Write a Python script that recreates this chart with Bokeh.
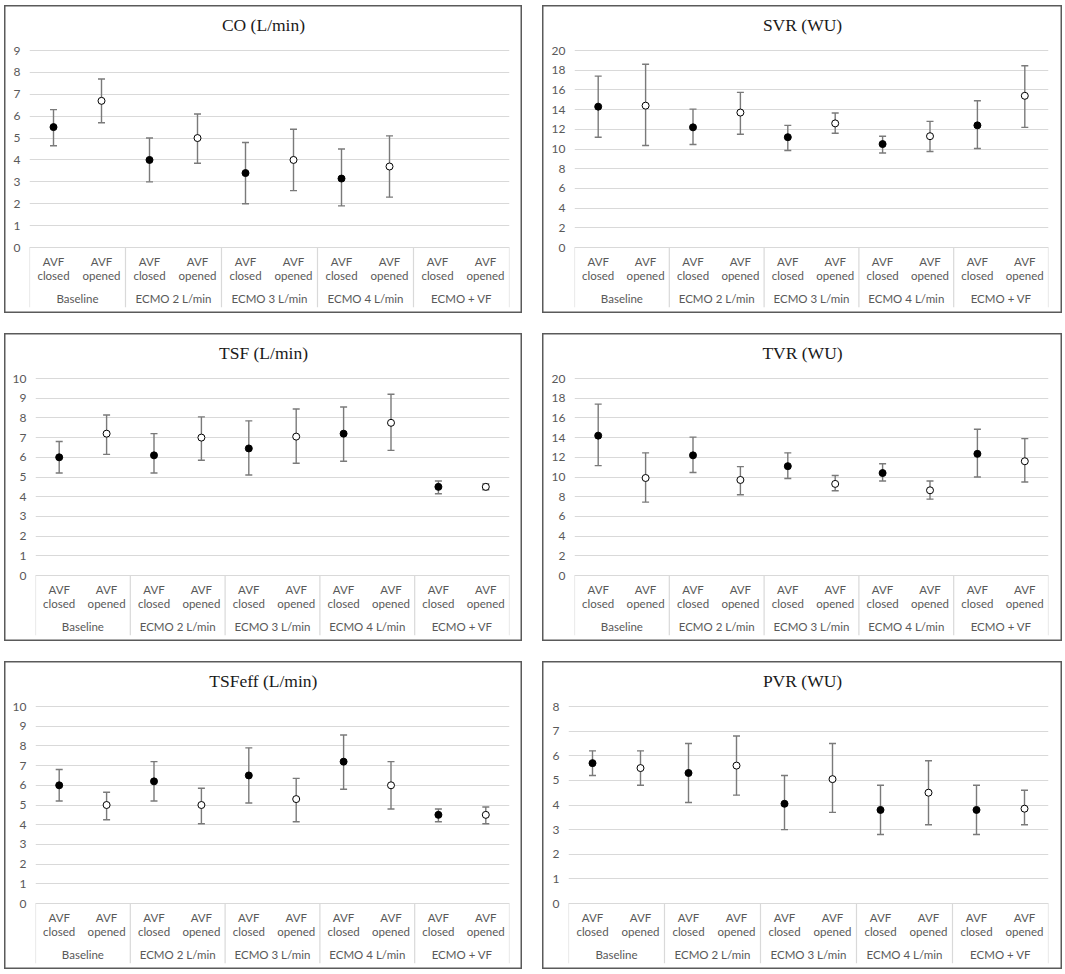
from bokeh.plotting import figure
from bokeh.models import ColumnDataSource, FactorRange, Range1d, FixedTicker, Whisker, TeeHead
from bokeh.layouts import column, row
from bokeh.embed import file_html
from bokeh.resources import INLINE

groups = ["Baseline", "ECMO 2 L/min", "ECMO 3 L/min", "ECMO 4 L/min", "ECMO + VF"]
states = ["AVF\nclosed", "AVF\nopened"]

# CO (L/min)
co_closed = [5.5, 4.0, 3.4, 3.15, None]
co_closed_lo = [4.65, 3.0, 2.0, 1.9, None]
co_closed_hi = [6.3, 5.0, 4.8, 4.5, None]
co_opened = [6.7, 5.0, 4.0, 3.7, None]
co_opened_lo = [5.7, 3.85, 2.6, 2.3, None]
co_opened_hi = [7.7, 6.1, 5.4, 5.1, None]

# SVR (WU)
svr_closed = [14.3, 12.2, 11.2, 10.5, 12.4]
svr_closed_lo = [11.2, 10.45, 9.85, 9.6, 10.05]
svr_closed_hi = [17.4, 14.05, 12.4, 11.3, 14.9]
svr_opened = [14.4, 13.7, 12.6, 11.3, 15.4]
svr_opened_lo = [10.35, 11.5, 11.6, 9.75, 12.2]
svr_opened_hi = [18.6, 15.75, 13.65, 12.8, 18.45]

# TSF (L/min)
tsf_closed = [6.0, 6.1, 6.45, 7.2, 4.5]
tsf_closed_lo = [5.2, 5.2, 5.1, 5.8, 4.15]
tsf_closed_hi = [6.8, 7.2, 7.85, 8.55, 4.8]
tsf_opened = [7.2, 7.0, 7.05, 7.75, 4.5]
tsf_opened_lo = [6.15, 5.85, 5.7, 6.35, 4.35]
tsf_opened_hi = [8.15, 8.05, 8.45, 9.2, 4.65]

# TVR (WU)
tvr_closed = [14.2, 12.2, 11.1, 10.4, 12.35]
tvr_closed_lo = [11.15, 10.45, 9.85, 9.6, 10.0]
tvr_closed_hi = [17.4, 14.05, 12.45, 11.35, 14.85]
tvr_opened = [9.9, 9.7, 9.3, 8.65, 11.6]
tvr_opened_lo = [7.45, 8.2, 8.6, 7.75, 9.5]
tvr_opened_hi = [12.45, 11.05, 10.15, 9.6, 13.9]

# TSFeff (L/min)
tsfeff_closed = [6.0, 6.2, 6.5, 7.2, 4.5]
tsfeff_closed_lo = [5.2, 5.2, 5.1, 5.8, 4.15]
tsfeff_closed_hi = [6.8, 7.2, 7.9, 8.55, 4.8]
tsfeff_opened = [5.0, 5.0, 5.3, 6.0, 4.5]
tsfeff_opened_lo = [4.25, 4.05, 4.15, 4.8, 4.05]
tsfeff_opened_hi = [5.65, 5.85, 6.35, 7.2, 4.9]

# PVR (WU)
pvr_closed = [5.7, 5.3, 4.05, 3.8, 3.8]
pvr_closed_lo = [5.2, 4.1, 3.0, 2.8, 2.8]
pvr_closed_hi = [6.2, 6.5, 5.2, 4.8, 4.8]
pvr_opened = [5.5, 5.6, 5.05, 4.5, 3.85]
pvr_opened_lo = [4.8, 4.4, 3.7, 3.2, 3.2]
pvr_opened_hi = [6.2, 6.8, 6.5, 5.8, 4.6]

FONT = "Lato"
LABEL_COLOR = "#595959"
GRID_COLOR = "#d9d9d9"
ERR_COLOR = "#7a7a7a"
DATA_PX = 197      # height of the value area
AXIS_PX = 60       # height of the category-label area below 0
HEAD_PX = 7        # empty strip above the top gridline inside the frame
TOP_PX = 38
BOTTOM_PX = 6
TITLE_SIZE = 17.5

# Times / Liberation Serif advance widths (per 1000 em), used to centre titles on the panel
SERIF_W = {"C": 667, "O": 722, " ": 250, "(": 333, ")": 333, "L": 611, "/": 278, "m": 778,
           "i": 278, "n": 500, "S": 556, "V": 722, "R": 667, "W": 944, "U": 722, "T": 611,
           "F": 556, "P": 556, "e": 444, "f": 333}


def text_width(s, size):
    return sum(SERIF_W.get(ch, 500) for ch in s) * size / 1000.0


def make_panel(title, ymax, ystep, closed, closed_lo, closed_hi, opened, opened_lo, opened_hi, col):
    factors = [(g, s) for g in groups for s in states]
    ndig = len(str(ymax))
    if col == 0:
        W, left, right = 518, 19 + 6 * ndig, 13
    else:
        W, left, right = 520, 20 + 6 * ndig, 14
    H = 308
    per_px = ymax / DATA_PX
    ystart = -AXIS_PX * per_px
    yend = ymax + HEAD_PX * per_px
    p = figure(x_range=FactorRange(*factors, factor_padding=0, group_padding=0,
                                   subgroup_padding=0, range_padding=0),
               y_range=Range1d(ystart, yend),
               width=W, height=H, output_backend="svg", toolbar_location=None,
               min_border_left=left, min_border_right=right,
               min_border_top=TOP_PX, min_border_bottom=BOTTOM_PX, title=title)
    p.outline_line_color = None
    p.background_fill_color = None
    p.border_fill_color = None
    p.styles = {"box-shadow": "inset 0 0 0 1.5px #5a5a5a", "background-color": "white"}

    p.title.text_font = "Liberation Serif"
    p.title.text_font_size = f"{TITLE_SIZE}px"
    p.title.text_font_style = "normal"
    p.title.text_color = "#1a1a1a"
    p.title.align = "left"
    p.title.offset = W / 2 - left - text_width(title, TITLE_SIZE) / 2
    p.title.vertical_align = "top"
    p.title.standoff = 14

    p.xgrid.grid_line_color = None
    p.ygrid.grid_line_color = GRID_COLOR
    p.ygrid.grid_line_width = 1

    p.yaxis.ticker = FixedTicker(ticks=list(range(0, ymax + 1, ystep)))
    p.yaxis.axis_line_color = None
    p.yaxis.major_tick_line_color = None
    p.yaxis.minor_tick_line_color = None
    p.yaxis.major_tick_out = 0
    p.yaxis.major_label_standoff = 9
    p.yaxis.major_label_text_font = FONT
    p.yaxis.major_label_text_font_size = "12px"
    p.yaxis.major_label_text_color = LABEL_COLOR

    xa = p.xaxis[0]
    xa.fixed_location = 0
    xa.axis_line_color = GRID_COLOR
    xa.major_tick_line_color = None
    xa.minor_tick_line_color = None
    xa.major_tick_out = 0
    xa.major_label_standoff = 7
    xa.major_label_text_font = FONT
    xa.major_label_text_font_size = "11.5px"
    xa.major_label_text_line_height = 1.1
    xa.major_label_text_color = LABEL_COLOR
    xa.group_text_font = FONT
    xa.group_text_font_size = "11.5px"
    xa.group_text_font_style = "normal"
    xa.group_text_color = LABEL_COLOR
    xa.separator_line_color = None

    # group separators in the category area
    sx = [(g, states[0], -0.5) for g in groups] + [(groups[-1], states[-1], 0.5)]
    sep = ColumnDataSource(dict(x0=sx, x1=sx, y0=[0] * len(sx), y1=[ystart] * len(sx)))
    p.segment(x0="x0", y0="y0", x1="x1", y1="y1", source=sep,
              line_color=GRID_COLOR, line_width=1.2)

    for state, mean, lo, hi, fill in ((states[0], closed, closed_lo, closed_hi, "black"),
                                      (states[1], opened, opened_lo, opened_hi, "white")):
        xs, ys, los, his = [], [], [], []
        for g, m, l, h in zip(groups, mean, lo, hi):
            if m is None:
                continue
            xs.append((g, state))
            ys.append(m)
            los.append(l)
            his.append(h)
        src = ColumnDataSource(dict(x=xs, y=ys, lo=los, hi=his))
        w = Whisker(source=src, base="x", lower="lo", upper="hi", dimension="height",
                    line_color=ERR_COLOR, line_width=1.4, level="underlay",
                    upper_head=TeeHead(size=7, line_color=ERR_COLOR, line_width=1.4),
                    lower_head=TeeHead(size=7, line_color=ERR_COLOR, line_width=1.4))
        p.add_layout(w)
        p.scatter(x="x", y="y", source=src, marker="circle", size=7,
                  fill_color=fill, line_color="black", line_width=1)
    return p


p1 = make_panel("CO (L/min)", 9, 1, co_closed, co_closed_lo, co_closed_hi,
                co_opened, co_opened_lo, co_opened_hi, 0)
p2 = make_panel("SVR (WU)", 20, 2, svr_closed, svr_closed_lo, svr_closed_hi,
                svr_opened, svr_opened_lo, svr_opened_hi, 1)
p3 = make_panel("TSF (L/min)", 10, 1, tsf_closed, tsf_closed_lo, tsf_closed_hi,
                tsf_opened, tsf_opened_lo, tsf_opened_hi, 0)
p4 = make_panel("TVR (WU)", 20, 2, tvr_closed, tvr_closed_lo, tvr_closed_hi,
                tvr_opened, tvr_opened_lo, tvr_opened_hi, 1)
p5 = make_panel("TSFeff (L/min)", 10, 1, tsfeff_closed, tsfeff_closed_lo, tsfeff_closed_hi,
                tsfeff_opened, tsfeff_opened_lo, tsfeff_opened_hi, 0)
p6 = make_panel("PVR (WU)", 8, 1, pvr_closed, pvr_closed_lo, pvr_closed_hi,
                pvr_opened, pvr_opened_lo, pvr_opened_hi, 1)

layout = column(row(p1, p2, spacing=20), row(p3, p4, spacing=20), row(p5, p6, spacing=20),
                spacing=20)
layout.styles = {"margin-left": "4px", "margin-top": "5px"}

open("out.html", "w").write(file_html(layout, INLINE))
